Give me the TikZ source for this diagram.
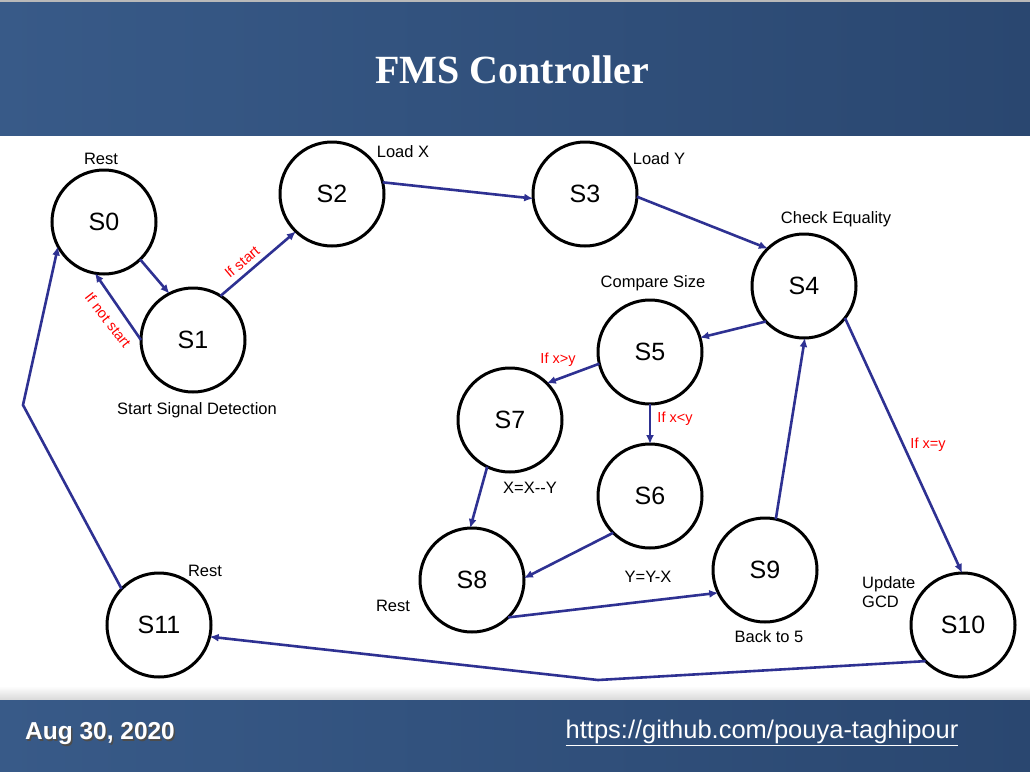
\documentclass[tikz,border=0pt]{standalone}
\usepackage{fontspec}
\setmainfont{Liberation Sans}
\newfontfamily\titlefont{Liberation Serif}
\usetikzlibrary{arrows.meta}
\definecolor{edgeblue}{RGB}{46,49,146}
\definecolor{hdL}{RGB}{56,90,136}
\definecolor{hdM}{RGB}{67,104,153}
\definecolor{hdR}{RGB}{42,71,112}
\begin{document}
\begin{tikzpicture}[x=1pt,y=-1pt,
  state/.style={circle,draw,line width=3pt,minimum size=104pt,inner sep=0pt,outer sep=0pt,font=\fontsize{25}{30}\selectfont},
  note/.style={font=\fontsize{16.5}{19}\selectfont,inner sep=0pt},
  cond/.style={text=red,font=\fontsize{14.5}{17}\selectfont,inner sep=0pt},
  edge/.style={edgeblue,line width=2.6pt,-{Latex[length=9pt,width=8pt]}}]
\useasboundingbox (0,0) rectangle (1030,771);
% header
\fill[gray!55] (0,0) rectangle (1030,2);
\shade[left color=hdL,middle color=hdM,right color=hdR] (0,2) rectangle (1030,135);
\node[text=white,font=\titlefont\bfseries\fontsize{40}{48}\selectfont] (title) at (512,70) {FMS Controller};
% footer
\shade[top color=white,bottom color=gray!30] (0,686) rectangle (1030,700);
\shade[left color=hdL,middle color=hdM,right color=hdR] (0,700) rectangle (1030,771);
\node[text=black!70,font=\bfseries\fontsize{24.5}{29}\selectfont] (dateshadow) at (101.5,735.5) {Aug 30, 2020};
\node[text=white,font=\bfseries\fontsize{24.5}{29}\selectfont] (date) at (100,734) {Aug 30, 2020};
\node[text=white,font=\fontsize{25.5}{30}\selectfont] (url) at (762,733) {\underline{https://github.com/pouya-taghipour}};
% states
\node[state] (S0) at (104,222) {S0};
\node[state] (S1) at (193,340) {S1};
\node[state] (S2) at (332,194) {S2};
\node[state] (S3) at (585,194) {S3};
\node[state] (S4) at (804,286) {S4};
\node[state] (S5) at (650,352) {S5};
\node[state] (S7) at (510,420) {S7};
\node[state] (S6) at (650,496) {S6};
\node[state] (S8) at (472,580) {S8};
\node[state] (S9) at (765,570) {S9};
\node[state] (S10) at (963,625) {S10};
\node[state] (S11) at (159,625) {S11};
% notes
\node[note] (n0) at (101,159) {Rest};
\node[note] (n2) at (403,152) {Load X};
\node[note] (n3) at (659,159) {Load Y};
\node[note] (n4) at (836,219) {Check Equality};
\node[note] (n5) at (653,283) {Compare Size};
\node[note] (n1) at (197,410) {Start Signal Detection};
\node[note] (n7) at (530,488) {X=X-{}-Y};
\node[note] (n6) at (648,577) {Y=Y-X};
\node[note] (n8) at (393,606) {Rest};
\node[note] (n9) at (769,637) {Back to 5};
\node[note,align=left,anchor=west] (n10) at (862,592) {Update\\GCD};
\node[note] (n11) at (205,571) {Rest};
% conditions
\node[cond,rotate=40] (c12) at (242,262) {If start};
\node[cond,rotate=-52] (c10) at (108,320) {If not start};
\node[cond] (c57) at (558,360) {If x>y};
\node[cond] (c56) at (675,419) {If x<y};
\node[cond] (c410) at (928,445) {If x=y};
% edges
\draw[edge] (S0.-46) -- (S1.117);
\draw[edge] (S1.180) -- (S0.-100);
\draw[edge] (S1.58) -- (S2.-134);
\draw[edge] (S2.13) -- (S3.-175);
\draw[edge] (S3.-3) -- (S4.134);
\draw[edge] (S4.-137) -- (S5.16);
\draw[edge] (S5.-167) -- (S7.45);
\draw[edge] (S5.-90) -- (S6.90);
\draw[edge] (S7.-116) -- (S8.92);
\draw[edge] (S6.-135) -- (S8.2);
\draw[edge] (S8.-46) -- (S9.-154);
\draw[edge] (S9.78) -- (S4.-89);
\draw[edge] (S4.-38) -- (S10.91);
\coordinate (m1) at (598,680);
\draw[edge] (S10.-136) -- (m1) -- (S11.-13);
\coordinate (m2) at (23,405);
\draw[edge] (S11.136) -- (m2) -- (S0.208);
\end{tikzpicture}
\end{document}
